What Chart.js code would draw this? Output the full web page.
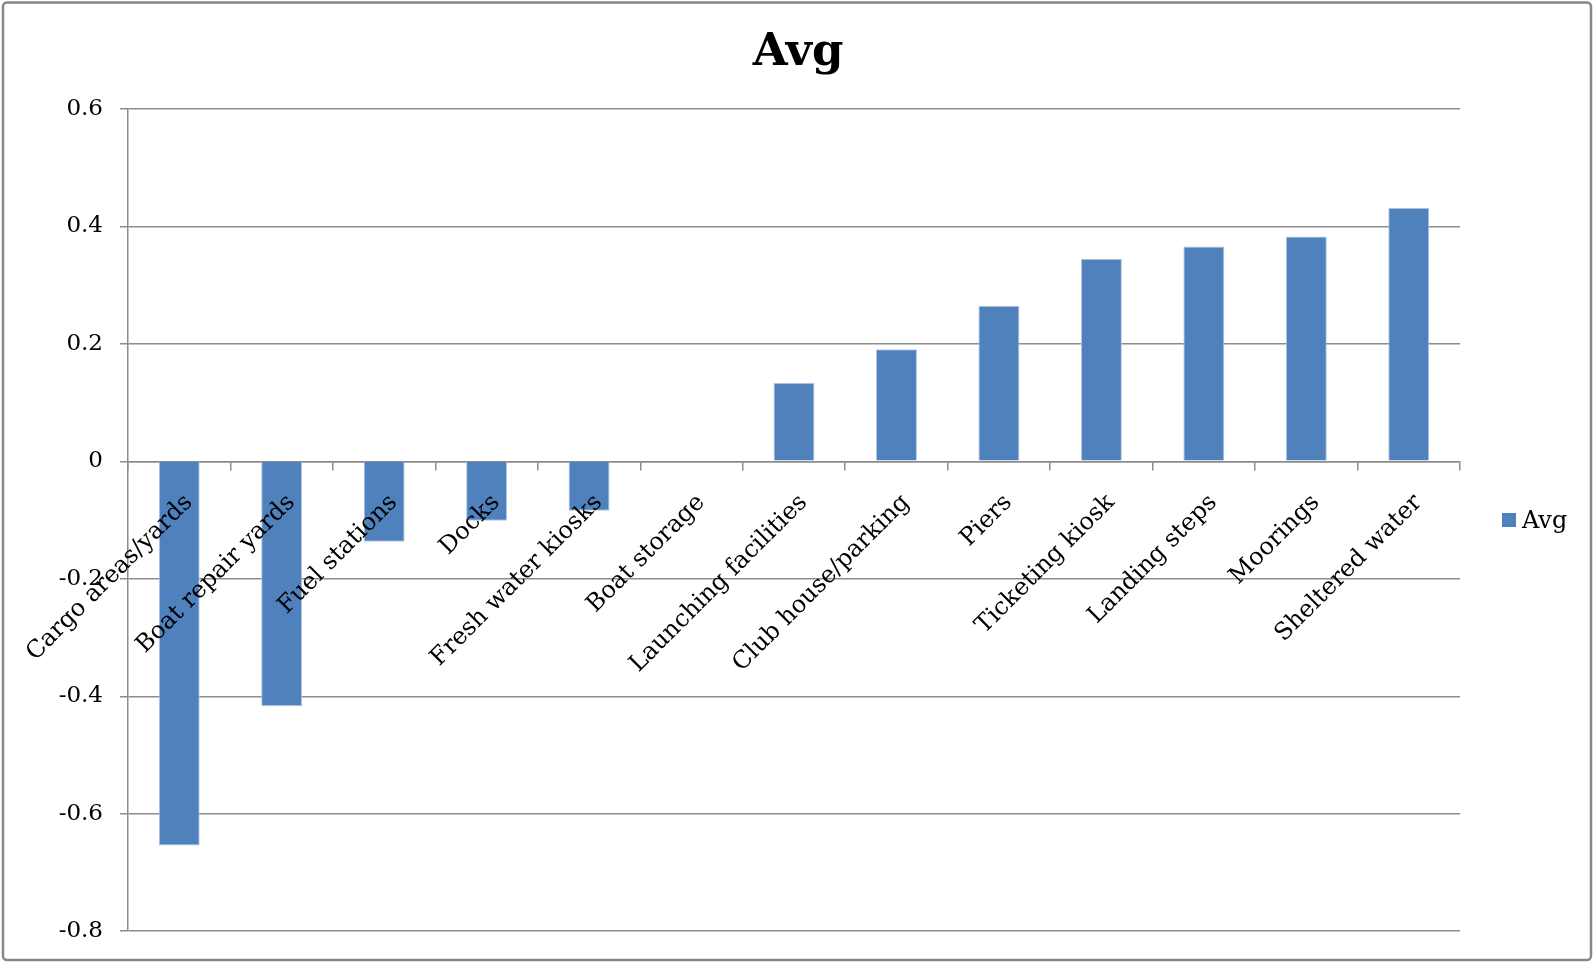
<!DOCTYPE html>
<html>
<head>
<meta charset="utf-8">
<title>Avg</title>
<script src="https://cdn.jsdelivr.net/npm/chart.js@4.4.1/dist/chart.umd.min.js"></script>
<style>
  html, body { margin: 0; padding: 0; background: #fff; }
  #wrap { position: relative; width: 1594px; height: 962px; }
</style>
</head>
<body>
<div id="wrap"><canvas id="avgChart"></canvas></div>
<script>
// ===== Datos =====
const categorias = [
  'Cargo areas/yards', 'Boat repair yards', 'Fuel stations', 'Docks',
  'Fresh water kiosks', 'Boat storage', 'Launching facilities',
  'Club house/parking', 'Piers', 'Ticketing kiosk', 'Landing steps',
  'Moorings', 'Sheltered water'
];
const valoresAvg = [
  -0.654, -0.417, -0.137, -0.101, -0.084, 0, 0.134,
  0.191, 0.265, 0.345, 0.366, 0.383, 0.432
];
const yTicks = [0.6, 0.4, 0.2, 0, -0.2, -0.4, -0.6, -0.8];
const yTickLabels = ['0.6', '0.4', '0.2', '0', '-0.2', '-0.4', '-0.6', '-0.8'];
const serieNombre = 'Avg';
const tituloTexto = 'Avg';

// ===== Estilo =====
const FONT = '"DejaVu Serif", "Liberation Serif", serif';
const AZUL = '#4F81BD';
const GRIS = '#8c8c8c';

// etiquetas de categoria giradas junto a la linea del cero
const categoryLabels = {
  id: 'categoryLabels',
  afterDraw(chart) {
    const { ctx } = chart;
    const xs = chart.scales.x, ys = chart.scales.y;
    const y0 = ys.getPixelForValue(0);
    ctx.save();
    ctx.font = '24px ' + FONT;
    ctx.fillStyle = '#000';
    ctx.textAlign = 'right';
    ctx.textBaseline = 'top';
    categorias.forEach((lab, i) => {
      const x = xs.getPixelForValue(i);
      ctx.save();
      ctx.translate(x + 1, y0 + 29);
      ctx.rotate(-Math.PI / 4);
      ctx.fillText(lab, 0, 0);
      ctx.restore();
    });
    ctx.restore();
  }
};

// titulo centrado en todo el lienzo, leyenda a la derecha y marco exterior
const titleLegendFrame = {
  id: 'titleLegendFrame',
  afterDraw(chart) {
    const { ctx } = chart;
    ctx.save();
    ctx.fillStyle = '#000';
    ctx.font = 'bold 45px ' + FONT;
    ctx.textAlign = 'center';
    ctx.textBaseline = 'alphabetic';
    ctx.fillText(tituloTexto, 798, 65);

    ctx.fillStyle = AZUL;
    ctx.fillRect(1502, 513, 14, 14);
    ctx.fillStyle = '#000';
    ctx.font = '24px ' + FONT;
    ctx.textAlign = 'left';
    ctx.fillText(serieNombre, 1522, 528);

    ctx.strokeStyle = '#878787';
    ctx.lineWidth = 2.5;
    ctx.beginPath();
    ctx.roundRect(3, 2.5, 1588, 957.5, 4);
    ctx.stroke();
    ctx.restore();
  }
};

const ctx = document.getElementById('avgChart').getContext('2d');
new Chart(ctx, {
  type: 'bar',
  data: {
    labels: categorias,
    datasets: [{
      label: serieNombre,
      data: valoresAvg,
      backgroundColor: AZUL,
      borderColor: '#b4c8e3',
      borderWidth: 1,
      barPercentage: 0.4,
      categoryPercentage: 1
    }]
  },
  options: {
    responsive: true,
    maintainAspectRatio: false,
    animation: false,
    layout: { padding: { left: 0, right: 134, top: 109, bottom: 30 } },
    plugins: {
      legend: { display: false },
      tooltip: { enabled: false },
      title: { display: false }
    },
    scales: {
      x: {
        position: { y: 0 },
        ticks: { display: false },
        grid: {
          offset: true,
          drawOnChartArea: false,
          drawTicks: true,
          tickLength: 8,
          color: GRIS,
          lineWidth: 1.5
        },
        border: { display: true, color: GRIS, width: 1.5 },
        afterFit(scale) { scale.height = 0; }
      },
      y: {
        min: -0.8,
        max: 0.6,
        afterBuildTicks(scale) { scale.ticks = yTicks.map(v => ({ value: v })); },
        ticks: {
          color: '#000',
          padding: 17,
          font: { family: FONT, size: 23 },
          callback: (v) => {
            const i = yTicks.findIndex(t => Math.abs(t - v) < 1e-9);
            return i >= 0 ? yTickLabels[i] : '';
          }
        },
        grid: { color: GRIS, lineWidth: 1.5, tickLength: 8 },
        border: { display: true, color: GRIS, width: 1.5 },
        afterFit(scale) { scale.width = 128; }
      }
    }
  },
  plugins: [categoryLabels, titleLegendFrame]
});
</script>
</body>
</html>
